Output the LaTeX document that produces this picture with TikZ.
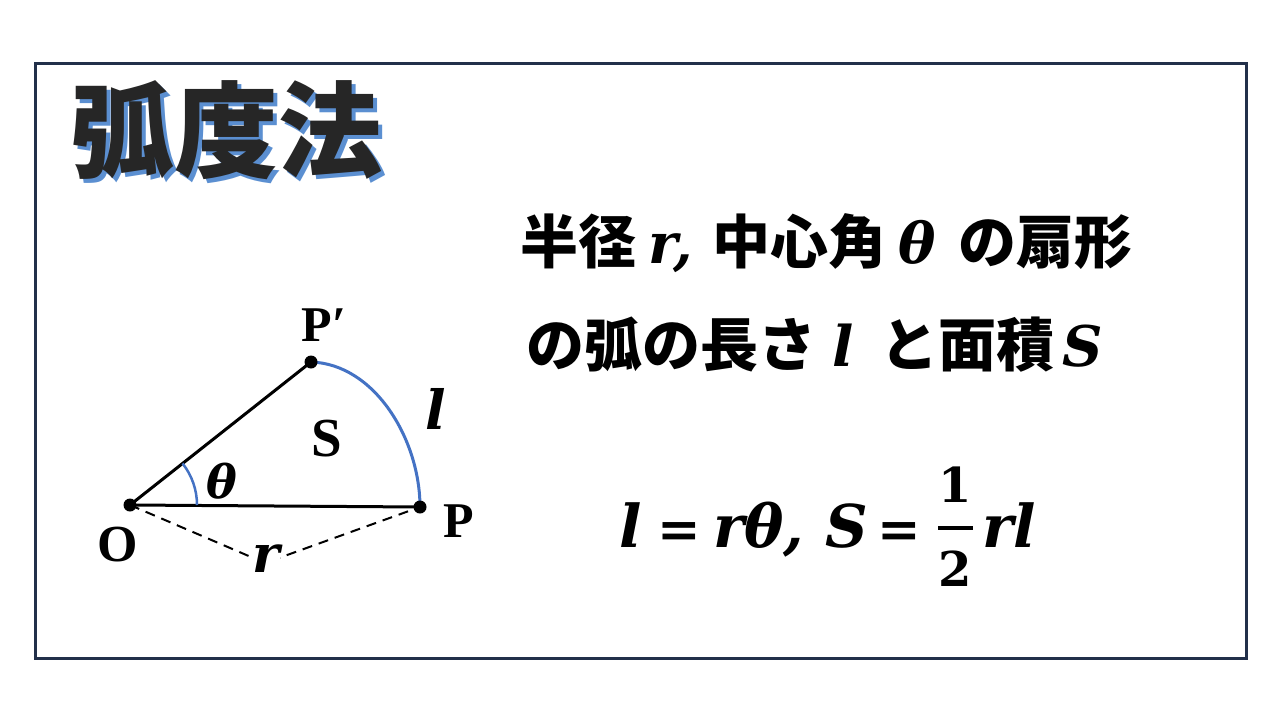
\documentclass[tikz,border=0pt]{standalone}
\usepackage{fontspec}
\usetikzlibrary{calc}
\setmainfont{Liberation Serif}
\newfontfamily\cjk{Noto Sans CJK JP}
\newfontfamily\mfont{DejaVu Serif}
\definecolor{frame}{HTML}{22304A}
\definecolor{arcblue}{HTML}{4472C4}
\definecolor{shadowblue}{HTML}{5B8FD1}
\definecolor{titledark}{HTML}{262626}
\newcommand{\fs}[1]{\fontsize{#1}{#1}\selectfont}
\tikzset{
  lbl/.style={inner sep=0pt, font=\bfseries\fs{50}},
  mlbl/.style={inner sep=0pt, font=\mfont\bfseries\itshape\fs{#1}},
  side/.style={line width=3pt, black},
  arcline/.style={line width=3pt, arcblue},
  dot/.style={fill=black},
  cjtxt/.style={inner sep=0pt, anchor=base west, font=\cjk\bfseries\fs{58}},
  mtxt/.style={inner sep=0pt, anchor=base west, font=\mfont\bfseries\itshape\fs{56}},
  fmi/.style={inner sep=0pt, anchor=base west, font=\mfont\bfseries\itshape\fs{59}},
  fup/.style={inner sep=0pt, anchor=base, font=\mfont\bfseries\fs{#1}}
}
\begin{document}
\begin{tikzpicture}[x=1pt,y=-1pt]
\useasboundingbox (0,0) rectangle (1280,720);
\fill[white] (0,0) rectangle (1280,720);
\draw[frame, line width=3pt] (35,63) rectangle (1246,658);
% title
\node[inner sep=0pt, anchor=west, text=shadowblue, font=\cjk\bfseries\fs{104}] (titleshadow) at (74,134) {弧度法};
\node[inner sep=0pt, anchor=west, text=titledark, font=\cjk\bfseries\fs{104}] (title) at (70,130) {弧度法};
% sector
\coordinate (O) at (130,505);
\coordinate (P) at (420,507);
\coordinate (Pp) at (311,362);
\coordinate (rm) at (265,563);
\draw[side] (O) -- (P);
\draw[side] (O) -- (Pp);
\draw[arcline] (Pp) .. controls (375,364) and (420,440) .. (P);
\draw[arcline, line width=2.5pt] ($(O)+(67,0)$) arc[start angle=0, end angle=-38.3, radius=67];
\draw[black, line width=2pt, dash pattern=on 10pt off 7pt] (O) -- (rm) -- (P);
\node[fill=white, inner sep=4pt, mlbl=52] (rl) at (266,559) {r};
\fill[dot] (O) circle[radius=6.5];
\fill[dot] (P) circle[radius=6.5];
\fill[dot] (Pp) circle[radius=6.5];
\node[lbl, font=\bfseries\fs{52}] (Olbl) at (118,545) {O};
\node[lbl] (Plbl) at (459,521) {P};
\node[lbl] (Pplbl) at (324,325) {P′};
\node[lbl, font=\bfseries\fs{55}] (Slbl) at (327,439) {S};
\node[mlbl=54] (llbl) at (436,409) {l};
\node[mlbl=46] (thlbl) at (222,481) {θ};
% text line 1
\node[cjtxt] (t1a) at (520,263) {半径};
\node[mtxt] (t1r) at (648,263) {r,};
\node[cjtxt] (t1b) at (712,263) {中心角};
\node[mtxt] (t1th) at (898,263) {θ};
\node[cjtxt] (t1c) at (958,263) {の扇形};
% text line 2
\node[cjtxt] (t2a) at (526,366) {の弧の長さ};
\node[mtxt] (t2l) at (832,366) {l};
\node[cjtxt] (t2b) at (880,366) {と面積};
\node[mtxt] (t2S) at (1062,366) {S};
% formula
\node[fmi] (fl) at (619,547) {l};
\node[fup=52] (feq1) at (679,547) {=};
\node[fmi] (frt) at (713,547) {rθ,};
\node[fmi] (fS) at (825,547) {S};
\node[fup=52] (feq2) at (899,547) {=};
\coordinate (fb1) at (938,528);
\coordinate (fb2) at (973,528);
\draw[line width=4pt] (fb1) -- (fb2);
\node[fup=48] (num) at (955,502) {1};
\node[fup=48] (den) at (955,586) {2};
\node[fmi] (frl) at (982,547) {rl};
\end{tikzpicture}
\end{document}
